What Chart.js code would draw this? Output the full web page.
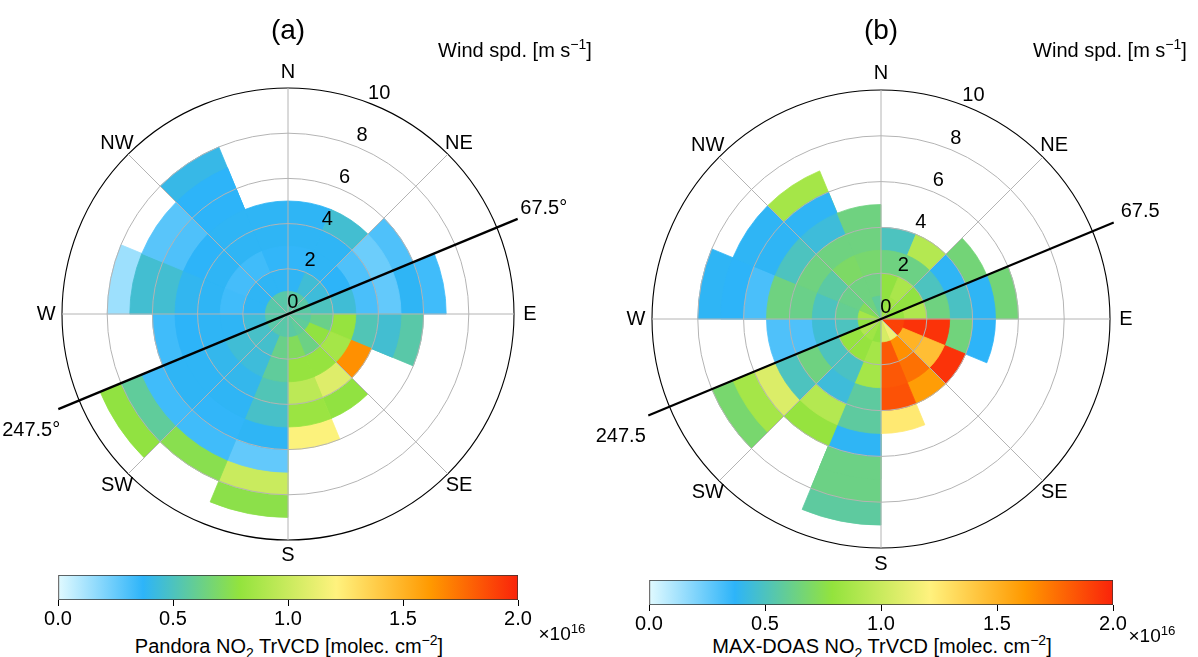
<!DOCTYPE html>
<html>
<head>
<meta charset="utf-8">
<script src="https://cdn.jsdelivr.net/npm/chart.js@4.4.0/dist/chart.umd.min.js"></script>
<style>
  body { margin: 0; background: #fff; font-family: "Liberation Sans", Arial, sans-serif; }
  #fig { position: relative; width: 1198px; height: 657px; overflow: hidden; }
  canvas { position: absolute; }
  .lbl { position: absolute; transform: translate(-50%, -50%); white-space: nowrap; color: #000; }
  sup, sub { font-size: 70%; line-height: 0; }
</style>
</head>
<body>
<div id="fig">
  <canvas id="roseA" width="576" height="600" style="left:0;top:0"></canvas>
  <canvas id="roseB" width="578" height="600" style="left:592px;top:0"></canvas>
  <canvas id="barA" width="540" height="55" style="left:40px;top:570px"></canvas>
  <canvas id="barB" width="545" height="55" style="left:630px;top:575px"></canvas>

  <div class="lbl" style="left:288px;top:30px;font-size:28px">(a)</div>
  <div class="lbl" style="left:881px;top:30px;font-size:28px">(b)</div>
  <div class="lbl" style="left:515px;top:50px;font-size:20px">Wind spd. [m s<sup>−1</sup>]</div>
  <div class="lbl" style="left:1110px;top:50px;font-size:20px">Wind spd. [m s<sup>−1</sup>]</div>
  <div class="lbl" style="left:289px;top:646px;font-size:20px">Pandora NO<sub>2</sub> TrVCD [molec. cm<sup>−2</sup>]</div>
  <div class="lbl" style="left:882px;top:646px;font-size:20px">MAX-DOAS NO<sub>2</sub> TrVCD [molec. cm<sup>−2</sup>]</div>
  <div class="lbl" style="left:562px;top:634px;font-size:19px">×10<sup>16</sup></div>
  <div class="lbl" style="left:1152px;top:636px;font-size:19px">×10<sup>16</sup></div>
</div>

<script>
// ---------- DADOS ----------
// setores de 22.5° em sentido horário a partir do N
const sectorLabels = ['0-22.5', '22.5-45', '45-67.5', '67.5-90', '90-112.5', '112.5-135',
  '135-157.5', '157.5-180', '180-202.5', '202.5-225', '225-247.5', '247.5-270',
  '270-292.5', '292.5-315', '315-337.5', '337.5-360'];
// limite externo de cada classe de velocidade [m/s]
const speedBins = [1, 2, 3, 4, 5, 6, 7, 8, 9];
const speedTicks = [0, 2, 4, 6, 8, 10];
const compassLabels = ['N', 'NE', 'E', 'SE', 'S', 'SW', 'W', 'NW'];

// NO2 TrVCD (x1e16) por setor, da classe 0-1 m/s para fora
const pandoraNO2 = [
  [0.56, 0.38, 0.36, 0.38, 0.38],
  [0.56, 0.45, 0.38, 0.38, 0.46],
  [0.56, 0.44, 0.37, 0.30, 0.24, 0.30],
  [0.56, 0.50, 0.45, 0.31, 0.26, 0.38, 0.33],
  [0.56, 0.62, 0.80, 0.52, 0.46, 0.55],
  [0.58, 0.78, 0.86, 1.65],
  [0.58, 0.63, 0.80, 1.08, 0.78],
  [0.56, 0.72, 0.80, 0.95, 0.82, 1.20],
  [0.55, 0.62, 0.58, 0.52, 0.48, 0.38, 0.26, 1.00, 0.76],
  [0.55, 0.47, 0.44, 0.40, 0.38, 0.36, 0.33, 0.75],
  [0.55, 0.48, 0.45, 0.40, 0.38, 0.38, 0.33, 0.58, 0.78],
  [0.55, 0.44, 0.38, 0.38, 0.37, 0.33],
  [0.55, 0.38, 0.33, 0.38, 0.39, 0.46, 0.46, 0.14],
  [0.55, 0.38, 0.32, 0.38, 0.37, 0.30, 0.28],
  [0.55, 0.38, 0.33, 0.38, 0.38, 0.37, 0.37, 0.41],
  [0.55, 0.38, 0.36, 0.38, 0.38]
];

const maxdoasNO2 = [
  [0.78, 0.78, 0.64, 0.50],
  [0.85, 0.88, 0.63, 0.92],
  [0.78, 0.78, 0.50, 0.38, 0.66],
  [0.80, 0.90, 0.64, 0.49, 0.38, 0.66],
  [1.90, 1.95, 1.95, 0.65, 0.37],
  [1.90, 1.50, 1.45, 1.95],
  [1.15, 1.65, 1.75, 1.60],
  [1.05, 1.83, 1.83, 1.85, 1.25],
  [0.78, 0.86, 0.86, 0.57, 0.57, 0.38, 0.63, 0.63, 0.57],
  [0.84, 0.80, 0.49, 0.44, 0.92, 0.80],
  [0.90, 0.80, 0.50, 0.64, 0.50, 1.07, 0.86, 0.68],
  [0.78, 0.50, 0.45, 0.30, 0.30],
  [0.86, 0.60, 0.50, 0.62, 0.64, 0.31, 0.37, 0.38],
  [0.72, 0.62, 0.56, 0.64, 0.50, 0.38, 0.38],
  [0.64, 0.64, 0.70, 0.64, 0.44, 0.38, 0.86],
  [0.58, 0.64, 0.68, 0.64, 0.64]
];

const cbRange = [0, 2.0];
const cbTicks = [0, 0.5, 1.0, 1.5, 2.0];

// paleta de cores (valor, rgb)
const cmapStops = [
  [0.00, [225, 250, 255]],
  [0.37, [45, 180, 249]],
  [0.79, [147, 227, 61]],
  [1.21, [255, 242, 126]],
  [1.62, [255, 153, 0]],
  [2.00, [250, 35, 10]]
];

const FONT = '20px "Liberation Sans", Arial, sans-serif';
Chart.defaults.font.family = '"Liberation Sans", Arial, sans-serif';

// ---------- CORES ----------
function corMapa(v) {
  if (v <= cmapStops[0][0]) return `rgb(${cmapStops[0][1].join(',')})`;
  for (let i = 1; i < cmapStops.length; i++) {
    const [v1, c1] = cmapStops[i];
    const [v0, c0] = cmapStops[i - 1];
    if (v <= v1) {
      const t = (v - v0) / (v1 - v0);
      const c = c0.map((x, k) => Math.round(x + (c1[k] - x) * t));
      return `rgb(${c.join(',')})`;
    }
  }
  return `rgb(${cmapStops[cmapStops.length - 1][1].join(',')})`;
}

// um dataset por classe de velocidade; os internos ficam por cima
function montarDatasets(rows) {
  return speedBins.map((edge, k) => {
    const cores = rows.map(row => row.length > k ? corMapa(row[k]) : 'rgba(0,0,0,0)');
    return {
      data: rows.map(row => row.length > k ? edge : 0),
      backgroundColor: cores,
      borderColor: cores,
      borderWidth: 0.8
    };
  });
}

// ---------- TEXTOS DA ROSA ----------
const roseText = {
  id: 'roseText',
  afterDraw(chart, args, opts) {
    const r = chart.scales.r;
    const ctx = chart.ctx;
    ctx.save();
    const a = r.getPointPositionForValue(3, 11);
    const b = r.getPointPositionForValue(11, 11);
    ctx.strokeStyle = '#000';
    ctx.lineWidth = 2.2;
    ctx.beginPath();
    ctx.moveTo(a.x, a.y);
    ctx.lineTo(b.x, b.y);
    ctx.stroke();

    ctx.fillStyle = '#000';
    ctx.font = FONT;
    ctx.textAlign = 'center';
    ctx.textBaseline = 'middle';
    compassLabels.forEach((txt, i) => {
      const p = r.getPointPositionForValue(i * 2, 10.7);
      ctx.fillText(txt, p.x, p.y);
    });
    speedTicks.forEach(v => {
      const p = r.getPointPositionForValue(1, v + 0.55);
      ctx.fillText(String(v), p.x, p.y);
    });
    const pa = r.getPointPositionForValue(3, 12.25);
    ctx.fillText(opts.lineLabels[0], pa.x, pa.y);
    const pb = r.getPointPositionForValue(11, 12.3);
    ctx.fillText(opts.lineLabels[1], pb.x, pb.y + 10);
    ctx.restore();
  }
};

// ---------- DESENHAR ROSA ----------
function desenharRosa(id, rows, padding, lineLabels) {
  return new Chart(document.getElementById(id), {
    type: 'polarArea',
    data: { labels: sectorLabels, datasets: montarDatasets(rows) },
    options: {
      responsive: false,
      animation: false,
      events: [],
      layout: { padding },
      plugins: {
        legend: { display: false },
        tooltip: { enabled: false },
        roseText: { lineLabels }
      },
      scales: {
        r: {
          min: 0,
          max: 10,
          startAngle: 0,
          ticks: { display: false, stepSize: 2 },
          pointLabels: { display: false },
          grid: {
            z: 1,
            circular: true,
            color: c => (c.tick && c.tick.value === 10) ? '#000' : '#b4b4b4',
            lineWidth: c => (c.tick && c.tick.value === 10) ? 1.1 : 1
          },
          angleLines: {
            display: true,
            color: '#b4b4b4',
            lineWidth: c => c.index % 2 === 0 ? 1 : 0
          }
        }
      }
    },
    plugins: [roseText]
  });
}

// ---------- BARRA DE CORES ----------
function gradienteBarra(chart) {
  const x = chart.scales.x;
  if (!x || !chart.chartArea) return '#ccc';
  const g = chart.ctx.createLinearGradient(x.getPixelForValue(cbRange[0]), 0, x.getPixelForValue(cbRange[1]), 0);
  cmapStops.forEach(([v, rgb]) => {
    g.addColorStop((v - cbRange[0]) / (cbRange[1] - cbRange[0]), `rgb(${rgb.join(',')})`);
  });
  return g;
}

function desenharBarra(id, padding) {
  return new Chart(document.getElementById(id), {
    type: 'bar',
    data: {
      labels: ['NO2'],
      datasets: [{
        data: [cbRange],
        backgroundColor: c => gradienteBarra(c.chart),
        borderColor: '#333',
        borderWidth: 1,
        borderSkipped: false,
        barPercentage: 1,
        categoryPercentage: 1
      }]
    },
    options: {
      indexAxis: 'y',
      responsive: false,
      animation: false,
      events: [],
      layout: { padding },
      plugins: { legend: { display: false }, tooltip: { enabled: false } },
      scales: {
        x: {
          type: 'linear',
          min: cbRange[0],
          max: cbRange[1],
          afterBuildTicks: s => { s.ticks = cbTicks.map(v => ({ value: v })); },
          ticks: { callback: v => Number(v).toFixed(1), color: '#000', font: { size: 20 }, padding: 1, maxRotation: 0 },
          grid: { drawOnChartArea: false, drawTicks: true, tickLength: 6, color: '#000' },
          border: { display: false }
        },
        y: { display: false }
      }
    }
  });
}

// ---------- INICIAR ----------
desenharRosa('roseA', pandoraNO2, { left: 62, right: 62, top: 88, bottom: 60 }, ['67.5°', '247.5°']);
desenharRosa('roseB', maxdoasNO2, { left: 60, right: 60, top: 90, bottom: 52 }, ['67.5', '247.5']);
desenharBarra('barA', { left: 18, right: 62, top: 5, bottom: 0 });
desenharBarra('barB', { left: 19, right: 62, top: 5, bottom: 0 });
</script>
</body>
</html>
